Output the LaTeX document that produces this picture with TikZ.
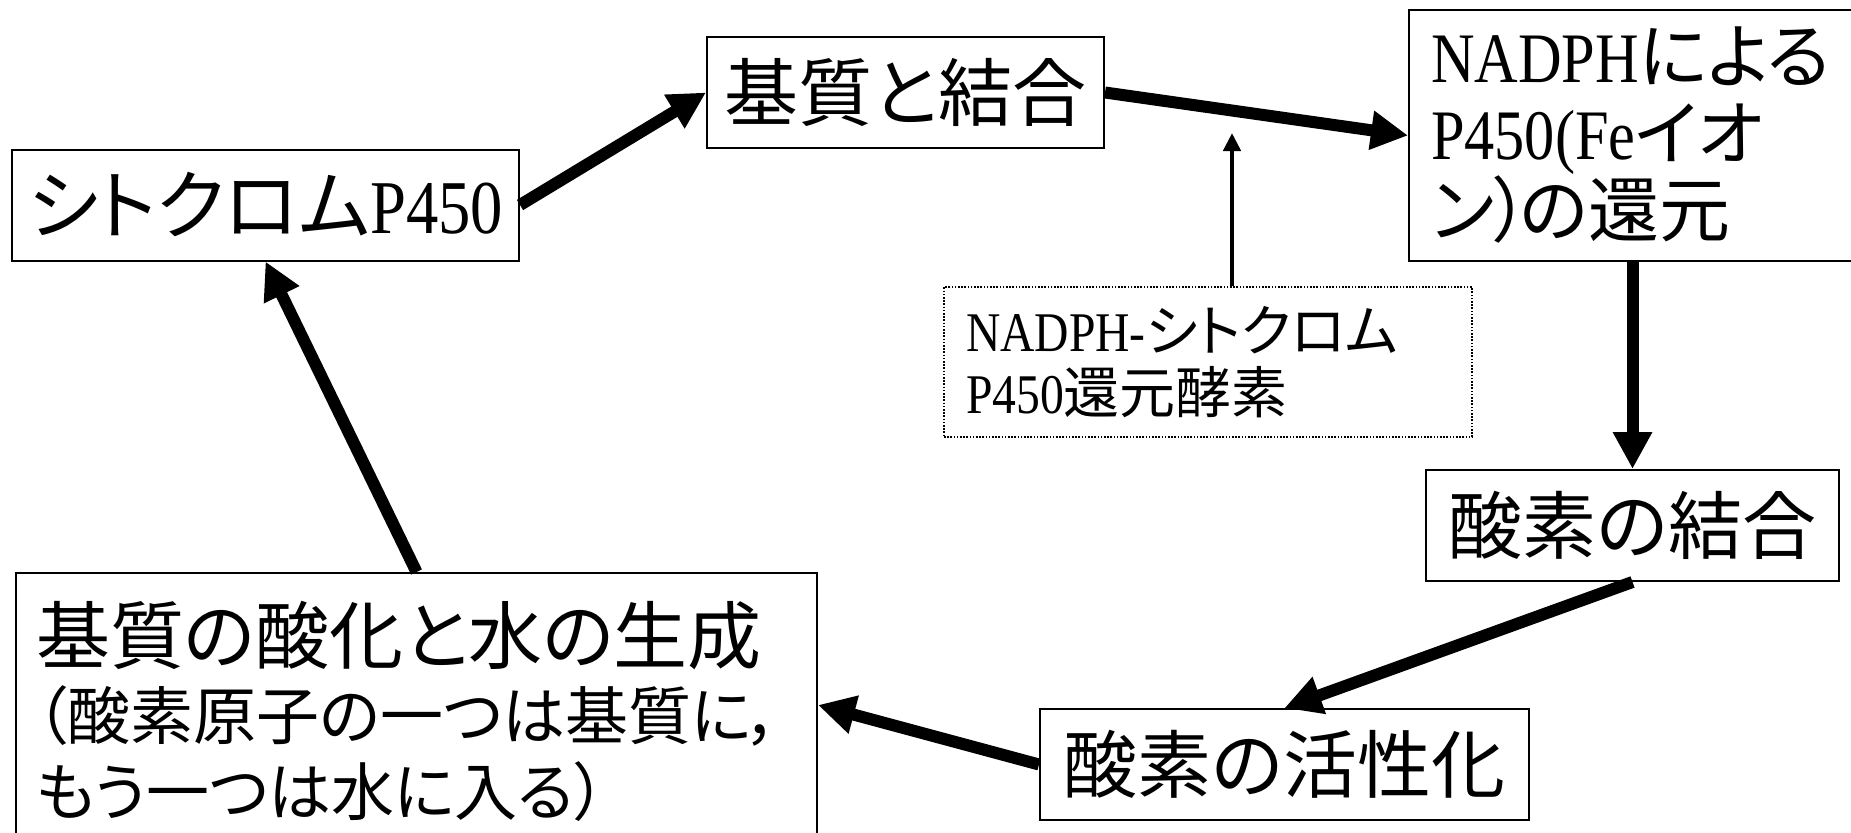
\documentclass[tikz,border=0pt]{standalone}
\usepackage{fontspec}
\setmainfont{Liberation Serif}
\newfontfamily\lat[FakeStretch=0.85]{Liberation Serif}
\newfontfamily\jp[RawFeature=+palt]{Noto Sans CJK JP}
\usetikzlibrary{arrows.meta}
\tikzset{
  box/.style={draw, line width=2pt, inner sep=0pt},
  enzbox/.style={draw, line width=1.6pt, dash pattern=on 1.6pt off 1.6pt, inner sep=0pt},
  flow/.style={line width=12pt, -{Triangle[length=37pt,width=37pt]}},
  thinarrow/.style={line width=4.5pt, -{Triangle[length=18pt,width=17pt]}},
  big/.style={font=\fontsize{74}{80}\selectfont},
}
\begin{document}
\begin{tikzpicture}[x=1pt,y=-1pt]
\useasboundingbox (0,0) rectangle (1851,832);
\fill[white] (0,0) rectangle (1851,832);
\clip (0,0) rectangle (1851,832);

\node[box, big, font=\fontsize{76}{80}\selectfont, minimum width=507pt, minimum height=111pt] (b1) at (265.5,205) {{\jp シトクロム}{\lat P450}};
\node[box, big, minimum width=397pt, minimum height=111pt] (b2) at (905.5,92.5) {\jp 基質と結合};
\node[box, font=\fontsize{71}{77}\selectfont, anchor=north west, minimum height=251pt, inner xsep=22pt, text width=436pt, align=left] (b3) at (1408,9) {{\lat NADPH}{\jp による}\\{\lat P450(Fe}{\jp イオ}\\{\jp ン）\kern-10pt の還元}};
\node[enzbox, font=\fontsize{56}{62}\selectfont, minimum width=528pt, minimum height=150pt, inner xsep=22pt, text width=484pt, align=left] (d) at (1208,362) {{\lat NADPH-}{\jp シトクロム}\\{\lat P450}{\jp 還元酵素}};
\node[box, big, minimum width=413pt, minimum height=111pt] (o1) at (1632.5,525.5) {\jp 酸素の結合};
\node[box, big, minimum width=489pt, minimum height=111pt] (o2) at (1284.5,764.5) {\jp 酸素の活性化};
\node[box, font=\fontsize{63}{76}\selectfont, anchor=north west, inner xsep=20pt, inner ysep=28pt, text width=761pt, align=left] (b5) at (15,572) {{\fontsize{74}{76}\selectfont\jp 基質の酸化と水の生成}\\{\jp （酸素原子の一つは基質に，}\\{\jp もう一つは水に入る）}};

\coordinate (enztip) at (1232,133);
\draw[flow] (b1.east) -- (b2.west);
\draw[flow] (b2.east) -- (b3.west);
\draw[thinarrow] (d.north -| enztip) -- (enztip);
\draw[flow] (b3.south -| o1.north) -- (o1.north);
\draw[flow] (o1.south) -- (o2.north);
\draw[flow] (o2.west) -- ([yshift=-133pt]b5.north east);
\draw[flow] (b5.north) -- (b1.south);
\end{tikzpicture}
\end{document}
